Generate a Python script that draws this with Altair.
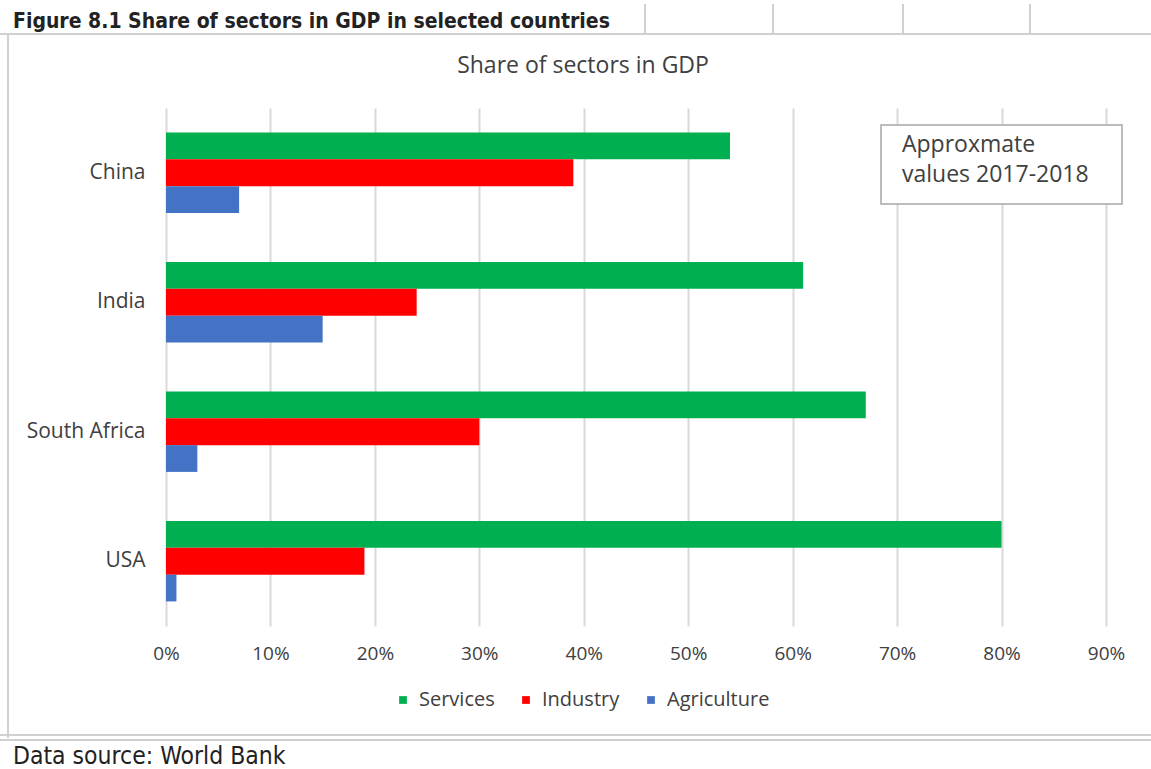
import altair as alt
import pandas as pd

countries = ["China", "India", "South Africa", "USA"]
sectors = ["Services", "Industry", "Agriculture"]
services = [54, 61, 67, 80]
industry = [39, 24, 30, 19]
agriculture = [7, 15, 3, 1]
x_ticks = [0, 10, 20, 30, 40, 50, 60, 70, 80, 90]
colors = ["#00B050", "#FF0000", "#4472C4"]

rows = []
for i, c in enumerate(countries):
    for s, vals in zip(sectors, [services, industry, agriculture]):
        rows.append({"country": c, "sector": s, "value": vals[i]})
df = pd.DataFrame(rows)

W, H = 940, 518
OX, OY = 166, 108  # plot origin in page coords
TEXT = "#404040"
LBL_FONT = "Open Sans"
CAL_FONT = "DejaVu Sans Condensed, sans-serif"

bars = alt.Chart(df).mark_bar().encode(
    x=alt.X("value:Q", scale=alt.Scale(domain=[0, 90], nice=False),
            axis=alt.Axis(values=x_ticks, labelExpr="datum.value + '%'", title=None,
                          grid=True, gridColor="#d9d9d9", gridWidth=2, domain=False,
                          ticks=False, labelFont=LBL_FONT, labelFontSize=19,
                          labelColor=TEXT, labelPadding=18, labelFlush=False)),
    y=alt.Y("country:N", sort=countries,
            scale=alt.Scale(paddingInner=0.38, paddingOuter=0.19),
            axis=alt.Axis(title=None, domain=False, ticks=False, labelFont=LBL_FONT,
                          labelFontSize=21, labelColor=TEXT, labelPadding=21)),
    yOffset=alt.YOffset("sector:N", sort=sectors, scale=alt.Scale(domain=sectors)),
    color=alt.Color("sector:N", scale=alt.Scale(domain=sectors, range=colors),
                    legend=alt.Legend(title=None, orient="none", direction="horizontal",
                                      legendX=404 - OX - 11, legendY=701 - OY - 11,
                                      symbolType="square", symbolSize=60,
                                      symbolStrokeWidth=0, labelFont=LBL_FONT,
                                      labelFontSize=20, labelColor=TEXT,
                                      labelOffset=6, columnPadding=21)),
)

one = pd.DataFrame({"a": [0]})

def rule(x1, y1, x2, y2, color="#d0d0d0", w=2):
    return alt.Chart(one).mark_rule(color=color, strokeWidth=w).encode(
        x=alt.value(x1 - OX), x2=alt.value(x2 - OX),
        y=alt.value(y1 - OY), y2=alt.value(y2 - OY))

decor = [
    rule(0, 34, 1151, 34),
    rule(8, 34, 8, 738),
    rule(0, 735, 1151, 735),
    rule(0, 740, 1151, 740),
]
for hx in [645, 773, 903, 1030]:
    decor.append(rule(hx, 4, hx, 34))

box = alt.Chart(one).mark_rect(fill="white", stroke="#a6a6a6", strokeWidth=1.5).encode(
    x=alt.value(881 - OX), x2=alt.value(1122 - OX),
    y=alt.value(125 - OY), y2=alt.value(204 - OY))

def text(label, x, y, font=LBL_FONT, size=17, weight="normal", align="left", color=TEXT):
    return alt.Chart(pd.DataFrame({"t": [label]})).mark_text(
        font=font, fontSize=size, fontWeight=weight, align=align, baseline="middle",
        color=color).encode(x=alt.value(x - OX), y=alt.value(y - OY), text="t:N")

texts = [
    text("Approxmate", 902, 145, size=23),
    text("values 2017-2018", 902, 175, size=23),
    text("Share of sectors  in GDP", 583, 66, size=23, align="center"),
    text("Figure 8.1 Share of sectors in GDP in selected countries", 13, 22,
         font=CAL_FONT, size=21, weight="bold", color="#222222"),
    text("Data source: World Bank", 13, 757, font=CAL_FONT, size=24.5, color="#222222"),
]

chart = alt.layer(*decor, bars, box, *texts).properties(
    width=W, height=H,
    autosize=alt.AutoSizeParams(type="none"),
    padding={"left": OX, "top": OY, "right": 1151 - OX - W, "bottom": 769 - OY - H},
    background="white",
).configure_view(stroke=None)

chart.save("out.html", embed_options={"renderer": "svg", "actions": False})
